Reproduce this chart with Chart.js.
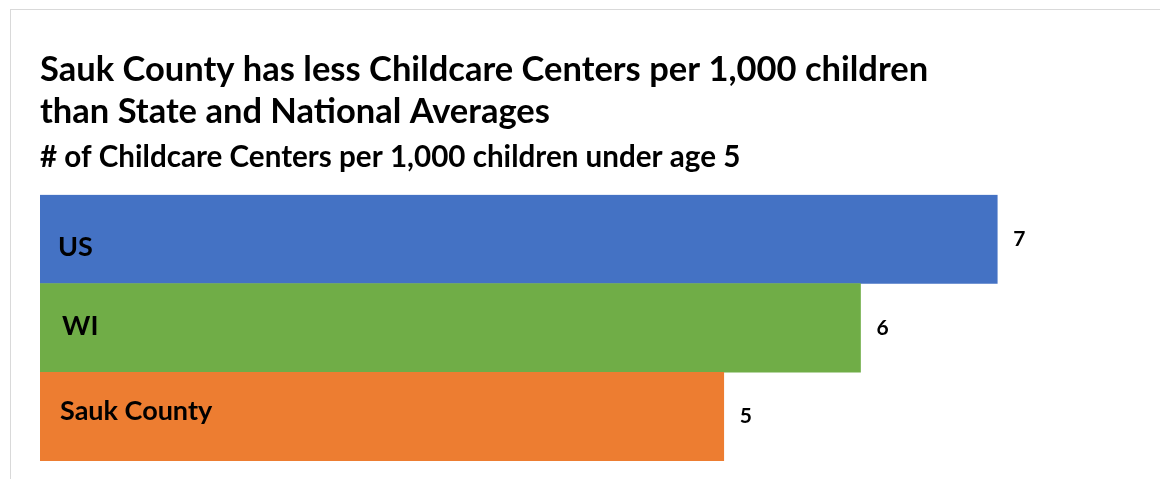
<!DOCTYPE html>
<html>
<head>
<meta charset="utf-8">
<script src="https://cdn.jsdelivr.net/npm/chart.js@4.4.1/dist/chart.umd.min.js"></script>
<style>
    html, body { margin: 0; padding: 0; background: #fff; }
    #wrap { position: relative; width: 1160px; height: 479px; overflow: hidden; }
    #frame {
        position: absolute; left: 10px; top: 9px; width: 1200px; height: 500px;
        border-top: 1px solid #d9d9d9; border-left: 1px solid #d9d9d9;
        pointer-events: none;
    }
    canvas { position: absolute; left: 0; top: 0; }
</style>
</head>
<body>
<div id="wrap">
    <div id="frame"></div>
    <canvas id="centersChart" width="1160" height="479"></canvas>
</div>
<script>
// Childcare centers per 1,000 children under age 5
const regions = ['US', 'WI', 'Sauk County'];
const centersPer1000 = [7, 6, 5];
const barColors = ['#4472C4', '#70AD47', '#ED7D31'];

const titleLines = [
    'Sauk County has less Childcare Centers per 1,000 children',
    'than State and National Averages'
];
const subtitleText = '# of Childcare Centers per 1,000 children under age 5';

const FONT = 'Lato, "Open Sans", sans-serif';

// Category names inside the bars, values just past the bar ends
const barLabels = {
    id: 'barLabels',
    afterDatasetsDraw(chart, args, opts) {
        const ctx = chart.ctx;
        const meta = chart.getDatasetMeta(0);
        ctx.save();
        ctx.fillStyle = '#000';
        ctx.textBaseline = 'middle';
        meta.data.forEach((bar, i) => {
            const nudge = opts.nudge[i] || [0, 0];
            ctx.font = 'bold ' + opts.nameSize + 'px ' + FONT;
            ctx.textAlign = 'left';
            ctx.fillText(regions[i], bar.base + 18 + nudge[0], bar.y + nudge[1]);

            ctx.font = 'bold ' + opts.valueSize + 'px ' + FONT;
            ctx.fillText(String(centersPer1000[i]), bar.x + 16, bar.y);
        });
        ctx.restore();
    }
};

new Chart(document.getElementById('centersChart'), {
    type: 'bar',
    data: {
        labels: regions,
        datasets: [{
            data: centersPer1000,
            backgroundColor: barColors,
            borderWidth: 0,
            barPercentage: 1,
            categoryPercentage: 1
        }]
    },
    options: {
        indexAxis: 'y',
        responsive: false,
        animation: false,
        layout: {
            padding: { left: 40, right: 26, top: 49, bottom: 18 }
        },
        plugins: {
            legend: { display: false },
            tooltip: { enabled: false },
            title: {
                display: true,
                text: titleLines,
                align: 'start',
                color: '#000',
                font: { family: FONT, size: 34.5, weight: 'bold', lineHeight: 1.206 },
                padding: { top: 0, bottom: 7 }
            },
            subtitle: {
                display: true,
                text: subtitleText,
                align: 'start',
                color: '#000',
                font: { family: FONT, size: 29.6, weight: 'bold', lineHeight: 1.2 },
                padding: { top: 0, bottom: 20 }
            },
            barLabels: {
                nameSize: 27,
                valueSize: 21,
                nudge: [[0, 8], [4, -2], [2, -5]]
            }
        },
        scales: {
            x: { display: false, min: 0, max: 8 },
            y: { display: false }
        }
    },
    plugins: [barLabels]
});
</script>
</body>
</html>
